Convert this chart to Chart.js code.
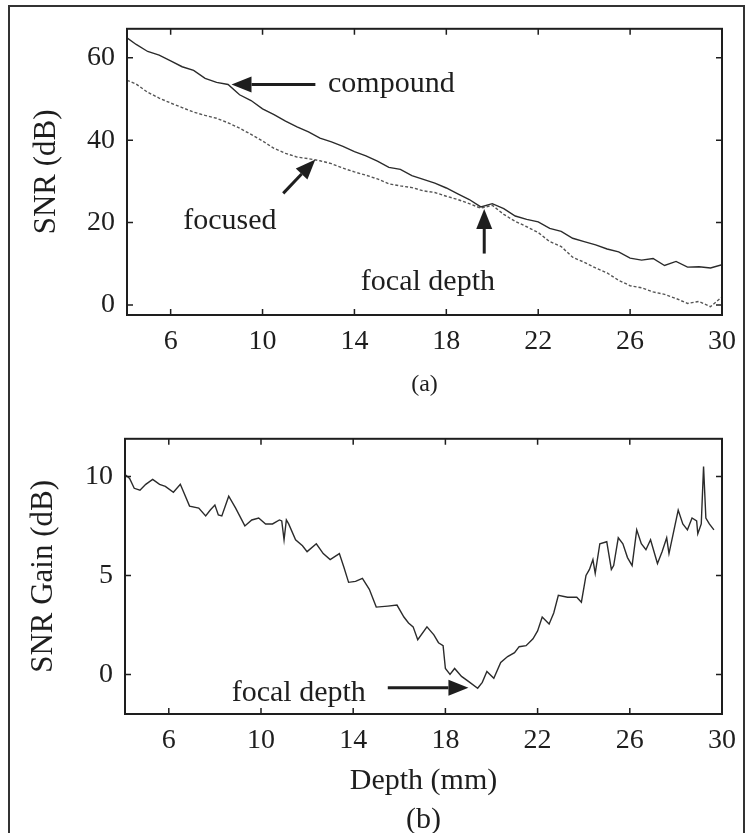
<!DOCTYPE html>
<html>
<head>
<meta charset="utf-8">
<script src="https://cdn.jsdelivr.net/npm/chart.js@4.4.1/dist/chart.umd.min.js"></script>
<style>
  html, body { margin: 0; padding: 0; background: #fff; overflow: hidden; }
  body { width: 750px; height: 833px; position: relative; }
  #frame { position: absolute; left: 8px; top: 5px; width: 737px; height: 900px; border: 2px solid #333; box-sizing: border-box; }
  .wrap { position: absolute; left: 0; width: 750px; }
  #wrapA { top: 0; height: 410px; }
  #wrapB { top: 410px; height: 440px; }
</style>
</head>
<body>
<div id="frame"></div>
<div class="wrap" id="wrapA"><canvas id="chartA"></canvas></div>
<div class="wrap" id="wrapB"><canvas id="chartB"></canvas></div>
<script>
// (a) SNR vs depth
var depthA = [4.1, 4.5, 5.0, 5.5, 6.0, 6.5, 7.0, 7.5, 8.0, 8.5, 9.0, 9.5, 10.0, 10.5, 11.0, 11.5, 12.0, 12.5, 13.0, 13.5,
  14.0, 14.5, 15.0, 15.5, 16.0, 16.5, 17.0, 17.5, 18.0, 18.5, 19.0, 19.5, 20.0, 20.5, 21.0, 21.5, 22.0, 22.5, 23.0, 23.5,
  24.0, 24.5, 25.0, 25.5, 26.0, 26.5, 27.0, 27.5, 28.0, 28.5, 29.0, 29.5, 30.0];
var compound = [64.8, 63.2, 61.5, 60.6, 59.2, 57.8, 56.9, 55.0, 54.0, 53.5, 51.0, 49.6, 47.6, 46.2, 44.6, 43.2, 42.0, 40.5, 39.6, 38.5,
  37.2, 36.2, 34.9, 33.4, 32.9, 31.4, 30.5, 29.6, 28.4, 27.0, 25.6, 23.8, 24.6, 23.4, 21.6, 20.8, 20.2, 18.6, 17.9, 16.2,
  15.4, 14.6, 13.6, 12.9, 11.4, 10.9, 11.3, 9.6, 10.6, 9.2, 9.3, 9.0, 9.8];
var focused = [54.5, 53.6, 51.6, 50.2, 49.0, 47.9, 46.8, 46.0, 45.3, 44.2, 42.9, 41.4, 39.8, 38.0, 36.8, 35.9, 35.5, 35.0, 34.3, 33.2,
  32.3, 31.5, 30.6, 29.4, 28.9, 28.5, 27.7, 27.3, 26.4, 25.6, 24.6, 23.5, 24.2, 22.0, 20.3, 19.0, 17.6, 15.4, 14.2, 11.6,
  10.4, 9.0, 7.8, 6.0, 4.7, 4.2, 3.2, 2.6, 1.6, 0.4, 0.9, -0.4, 2.0];

// (b) SNR gain vs depth
var depthB = [4.1, 4.3, 4.5, 4.75, 5.0, 5.3, 5.6, 5.85, 6.2, 6.5, 6.9, 7.3, 7.6, 7.8, 8.0, 8.15, 8.3, 8.6, 8.9, 9.3,
  9.6, 9.9, 10.2, 10.5, 10.8, 10.9, 11.0, 11.1, 11.2, 11.5, 11.8, 12.0, 12.4, 12.7, 13.0, 13.4, 13.6, 13.8, 14.1, 14.4,
  14.7, 15.0, 15.5, 15.9, 16.2, 16.4, 16.6, 16.8, 17.2, 17.5, 17.7, 17.9, 18.0, 18.2, 18.4, 18.7, 19.0, 19.4, 19.6, 19.8,
  20.1, 20.4, 20.7, 21.0, 21.2, 21.5, 21.8, 22.0, 22.2, 22.5, 22.7, 22.9, 23.3, 23.7, 23.9, 24.1, 24.25, 24.4, 24.5, 24.7,
  25.0, 25.2, 25.3, 25.5, 25.7, 25.9, 26.1, 26.3, 26.5, 26.7, 26.9, 27.2, 27.4, 27.6, 27.7, 27.9, 28.1, 28.3, 28.5, 28.7,
  28.9, 28.95, 29.1, 29.2, 29.3, 29.45, 29.65];
var gain = [10.1, 9.9, 9.4, 9.3, 9.6, 9.85, 9.6, 9.5, 9.2, 9.6, 8.5, 8.4, 8.0, 8.3, 8.55, 8.05, 8.0, 9.0, 8.4, 7.5,
  7.8, 7.9, 7.6, 7.6, 7.8, 7.75, 6.8, 7.8, 7.6, 6.8, 6.5, 6.2, 6.6, 6.1, 5.8, 6.1, 5.4, 4.65, 4.7, 4.85,
  4.3, 3.4, 3.45, 3.5, 2.9, 2.6, 2.4, 1.75, 2.4, 2.0, 1.6, 1.45, 0.3, 0.0, 0.3, -0.1, -0.35, -0.7, -0.4, 0.15,
  -0.2, 0.6, 0.9, 1.1, 1.4, 1.45, 1.8, 2.2, 2.9, 2.55, 3.1, 4.0, 3.9, 3.9, 3.65, 5.0, 5.3, 5.8, 5.1, 6.6,
  6.7, 5.3, 5.5, 6.9, 6.6, 5.9, 5.5, 7.3, 6.6, 6.3, 6.8, 5.6, 6.2, 6.9, 6.1, 7.2, 8.3, 7.6, 7.3, 7.9,
  7.75, 7.1, 7.6, 10.5, 7.9, 7.6, 7.3];

var xTicks = [6, 10, 14, 18, 22, 26, 30];
var yTicksA = [0, 20, 40, 60];
var yTicksB = [0, 5, 10];

var SERIF = "'Liberation Serif', 'Times New Roman', serif";
var INK = '#1e1e1e';

function pts(xs, ys) { return xs.map(function (x, i) { return { x: x, y: ys[i] }; }); }

// MATLAB-like box with inward ticks, plus text / arrow notes placed in data units
var boxPlugin = {
  id: 'box',
  afterDatasetsDraw: function (chart) {
    var a = chart.chartArea, ctx = chart.ctx, xs = chart.scales.x, ys = chart.scales.y;
    ctx.save();
    ctx.strokeStyle = INK;
    ctx.lineWidth = 2;
    ctx.strokeRect(a.left, a.top, a.right - a.left, a.bottom - a.top);
    ctx.lineWidth = 1.5;
    ctx.beginPath();
    xs.ticks.forEach(function (t) {
      var p = xs.getPixelForValue(t.value);
      ctx.moveTo(p, a.bottom); ctx.lineTo(p, a.bottom - 6);
      ctx.moveTo(p, a.top); ctx.lineTo(p, a.top + 6);
    });
    ys.ticks.forEach(function (t) {
      var p = ys.getPixelForValue(t.value);
      ctx.moveTo(a.left, p); ctx.lineTo(a.left + 6, p);
      ctx.moveTo(a.right, p); ctx.lineTo(a.right - 6, p);
    });
    ctx.stroke();

    var notes = chart.options.plugins.notes || {};
    ctx.fillStyle = INK;
    ctx.font = '30px ' + SERIF;
    ctx.textBaseline = 'middle';
    ctx.textAlign = 'left';
    (notes.texts || []).forEach(function (n) {
      ctx.fillText(n.text, xs.getPixelForValue(n.x), ys.getPixelForValue(n.y));
    });
    (notes.arrows || []).forEach(function (n) {
      var x1 = xs.getPixelForValue(n.from[0]), y1 = ys.getPixelForValue(n.from[1]);
      var x2 = xs.getPixelForValue(n.to[0]), y2 = ys.getPixelForValue(n.to[1]);
      var ang = Math.atan2(y2 - y1, x2 - x1), hl = 20, hw = 8;
      var bx = x2 - hl * Math.cos(ang), by = y2 - hl * Math.sin(ang);
      ctx.lineWidth = 3;
      ctx.beginPath(); ctx.moveTo(x1, y1); ctx.lineTo(bx, by); ctx.stroke();
      ctx.beginPath();
      ctx.moveTo(x2, y2);
      ctx.lineTo(bx + hw * Math.sin(ang), by - hw * Math.cos(ang));
      ctx.lineTo(bx - hw * Math.sin(ang), by + hw * Math.cos(ang));
      ctx.closePath(); ctx.fill();
    });
    ctx.restore();
  }
};

function makeOptions(o) {
  return {
    responsive: true,
    maintainAspectRatio: false,
    animation: false,
    layout: { padding: { top: o.top, right: 28, left: 0, bottom: 0 } },
    plugins: { legend: { display: false }, tooltip: { enabled: false }, notes: o.notes },
    scales: {
      x: {
        type: 'linear', min: 4.1, max: 30,
        grid: { display: false, drawTicks: false },
        border: { display: false },
        afterBuildTicks: function (s) { s.ticks = xTicks.map(function (v) { return { value: v }; }); },
        afterFit: function (s) { s.height = o.xh; },
        ticks: { autoSkip: false, maxRotation: 0, padding: 10, color: INK, font: { family: SERIF, size: 28 } },
        title: { display: true, text: o.xTitle, color: INK, padding: { top: 0, bottom: o.xTitlePad }, font: { family: SERIF, size: o.xTitleSize, lineHeight: 1.3 } }
      },
      y: {
        min: o.yMin, max: o.yMax,
        grid: { display: false, drawTicks: false },
        border: { display: false },
        afterBuildTicks: function (s) { s.ticks = o.yTicks.map(function (v) { return { value: v }; }); },
        afterFit: function (s) { s.width = o.left; },
        ticks: { padding: 12, color: INK, font: { family: SERIF, size: 28 } },
        title: { display: true, text: o.yTitle, color: INK, padding: { top: o.yTitlePad, bottom: 0 }, font: { family: SERIF, size: 31 } }
      }
    }
  };
}

new Chart(document.getElementById('chartA'), {
  type: 'line',
  data: {
    datasets: [
      { label: 'compound', data: pts(depthA, compound), borderColor: '#2b2b2b', borderWidth: 1.4, pointRadius: 0, tension: 0 },
      { label: 'focused', data: pts(depthA, focused), borderColor: '#555', borderWidth: 1.4, borderDash: [3, 2], pointRadius: 0, tension: 0 }
    ]
  },
  options: makeOptions({
    top: 26, left: 127, xh: 95, yMin: -2.4, yMax: 67, yTicks: yTicksA,
    xTitle: '(a)', xTitleSize: 24, xTitlePad: 10, yTitle: 'SNR (dB)', yTitlePad: 28,
    notes: {
      texts: [
        { x: 12.85, y: 53.5, text: 'compound' },
        { x: 6.55, y: 20.4, text: 'focused' },
        { x: 14.28, y: 5.5, text: 'focal depth' }
      ],
      arrows: [
        { from: [12.3, 53.5], to: [8.65, 53.5] },
        { from: [10.9, 27.1], to: [12.3, 35.3] },
        { from: [19.65, 12.5], to: [19.65, 23.3] }
      ]
    }
  }),
  plugins: [boxPlugin]
});

new Chart(document.getElementById('chartB'), {
  type: 'line',
  data: {
    datasets: [
      { label: 'SNR gain', data: pts(depthB, gain), borderColor: '#2b2b2b', borderWidth: 1.4, pointRadius: 0, tension: 0 }
    ]
  },
  options: makeOptions({
    top: 18, left: 125, xh: 136, yMin: -2, yMax: 11.9, yTicks: yTicksB,
    xTitle: ['Depth (mm)', '(b)'], xTitleSize: 30, xTitlePad: 10, yTitle: 'SNR Gain (dB)', yTitlePad: 25,
    notes: {
      texts: [{ x: 8.73, y: -0.97, text: 'focal depth' }],
      arrows: [{ from: [15.5, -0.68], to: [19.0, -0.68] }]
    }
  }),
  plugins: [boxPlugin]
});
</script>
</body>
</html>
